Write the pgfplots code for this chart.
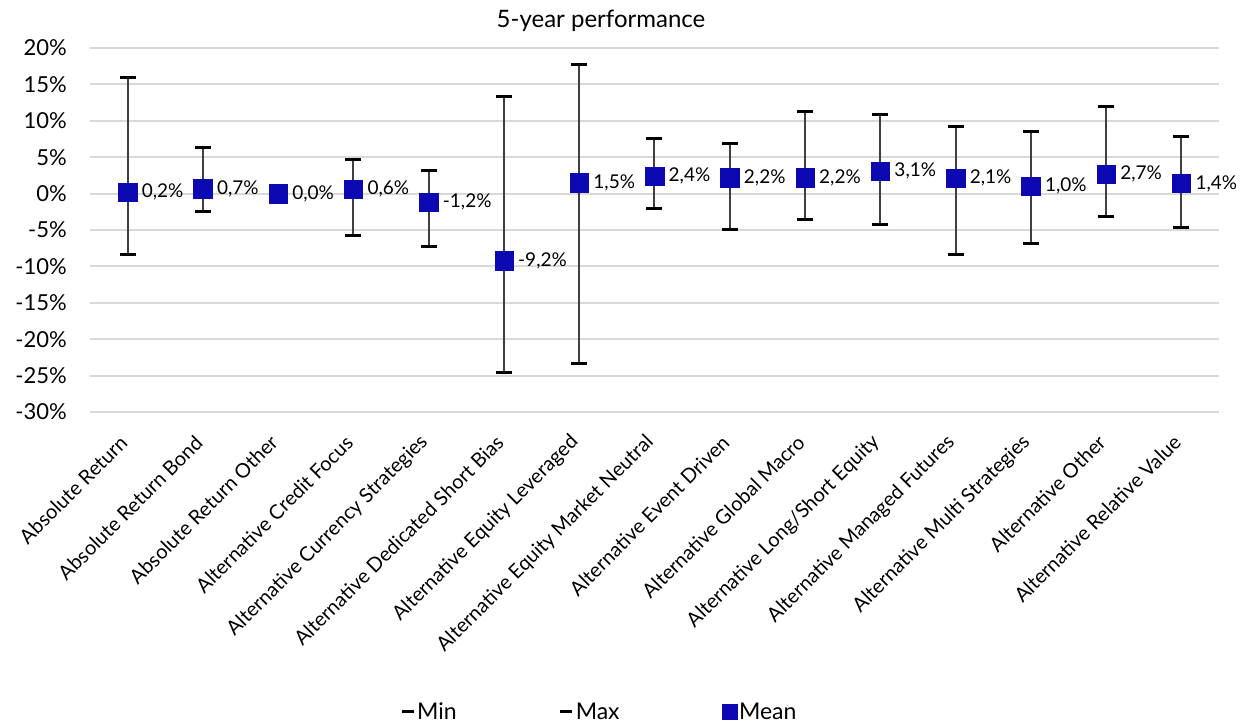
\documentclass[border=0pt]{standalone}
\usepackage{fontspec}
\setmainfont{Lato}
\usepackage{pgfplots}
\usepackage{pgfplotstable}
\pgfplotsset{compat=1.18}
\definecolor{meanblue}{RGB}{12,8,178}
\definecolor{gridgray}{RGB}{217,217,217}
\definecolor{whisk}{RGB}{64,64,64}

\pgfplotstableread{
x  min    max   mean  lab
1  -8.4   16.0   0.2  0,2
2  -2.5    6.4   0.7  0,7
3   0.0    0.0   0.0  0,0
4  -5.8    4.75  0.6  0,6
5  -7.3    3.2  -1.2  -1,2
6  -24.6  13.4  -9.2  -9,2
7  -23.4  17.8   1.5  1,5
8  -2.1    7.6   2.4  2,4
9  -4.9    6.95  2.2  2,2
10 -3.6   11.3   2.2  2,2
11 -4.3   10.9   3.1  3,1
12 -8.4    9.15  2.1  2,1
13 -6.8    8.5   1.0  1,0
14 -3.2   12.0   2.7  2,7
15 -4.6    7.9   1.4  1,4
}\datatable

\begin{document}
\begin{tikzpicture}
\useasboundingbox (-90pt,-312pt) rectangle (1168pt,412pt);
\begin{axis}[
  scale only axis,
  width=1129pt, height=364pt,
  xmin=0.5, xmax=15.5,
  ymin=-30, ymax=20,
  clip=false,
  axis line style={draw=none},
  major tick length=0pt,
  ytick={-30,-25,...,20},
  yticklabels={-30\%,-25\%,-20\%,-15\%,-10\%,-5\%,0\%,5\%,10\%,15\%,20\%},
  ymajorgrids,
  grid style={gridgray, line width=2pt},
  yticklabel style={font=\fontsize{22}{26}\selectfont, anchor=east, inner sep=0pt, xshift=-23pt},
  xtick=data,
  xticklabels={Absolute Return, Absolute Return Bond, Absolute Return Other, Alternative Credit Focus, Alternative Currency Strategies, Alternative Dedicated Short Bias, Alternative Equity Leveraged, Alternative Equity Market Neutral, Alternative Event Driven, Alternative Global Macro, Alternative Long/Short Equity, Alternative Managed Futures, Alternative Multi Strategies, Alternative Other, Alternative Relative Value},
  xticklabel style={font=\fontsize{20}{24}\selectfont, inner sep=0pt, xshift=-4pt, yshift=-27pt, rotate=45, anchor=east},
  legend columns=3,
  legend style={draw=none, inner sep=0pt, at={(0.2746,-0.824)}, anchor=west, font=\fontsize{23}{27}\selectfont,
    /tikz/every even column/.append style={column sep=100pt}},
]
\addplot[draw=none, forget plot, mark=none,
  error bars/.cd, y dir=both, y explicit, error mark=none,
  error bar style={whisk, line width=2pt}]
  table[x=x, y=mean, y error plus expr=\thisrow{max}-\thisrow{mean}, y error minus expr=\thisrow{mean}-\thisrow{min}] {\datatable};
\addplot[only marks, mark=-, mark size=8pt, black, mark options={line width=3pt},
  legend image code/.code={\draw[black, line width=3pt] (0pt,0pt) -- (12pt,0pt);}]
  table[x=x, y=min] {\datatable};
\addlegendentry{Min}
\addplot[only marks, mark=-, mark size=8pt, black, mark options={line width=3pt},
  legend image code/.code={\draw[black, line width=3pt] (0pt,0pt) -- (12pt,0pt);}]
  table[x=x, y=max] {\datatable};
\addlegendentry{Max}
\addplot[only marks, mark=square*, mark size=9.25pt, meanblue, mark options={draw=meanblue, fill=meanblue},
  legend image code/.code={\fill[meanblue] (0pt,-7.5pt) rectangle (15pt,7.5pt);},
  point meta=explicit symbolic,
  nodes near coords={\pgfplotspointmeta\%},
  every node near coord/.append style={font=\fontsize{19}{22}\selectfont, black, anchor=west, xshift=12pt, inner sep=2pt}]
  table[x=x, y=mean, meta=lab] {\datatable};
\addlegendentry{Mean}
\node[font=\fontsize{24}{28}\selectfont, inner sep=0pt] at (rel axis cs:0.4526,1.074) {5-year performance};
\end{axis}
\end{tikzpicture}
\end{document}
